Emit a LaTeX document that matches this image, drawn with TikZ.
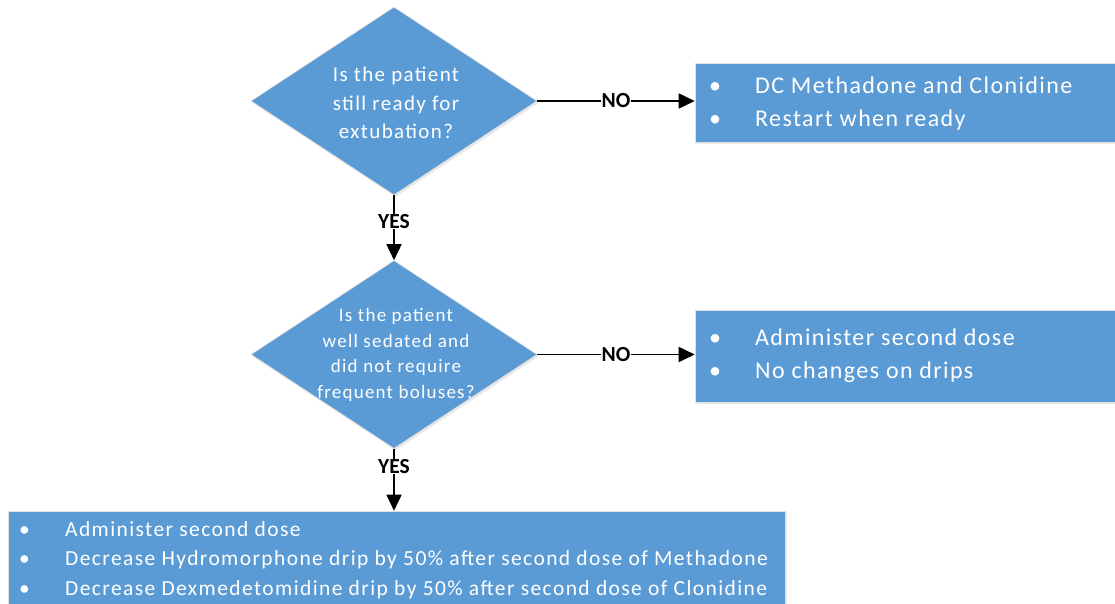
\documentclass[tikz,border=0pt]{standalone}
\usepackage{fontspec}
\setmainfont{Carlito}[LetterSpace=6.5]
\usetikzlibrary{shapes.geometric,arrows.meta,shadows}
\definecolor{fcblue}{RGB}{91,155,213}
\newcommand{\blt}{\makebox[46pt][l]{\textbullet}}
\tikzset{
  shade/.style={drop shadow={opacity=0.18,shadow xshift=1.5pt,shadow yshift=-2pt}},
  decision/.style={diamond,shape aspect=1.52,fill=fcblue,draw=black!12,line width=0.6pt,inner sep=0pt,minimum width=286pt,minimum height=188pt,shade},
  dtext/.style={text=white,align=center},
  actbox/.style={rectangle,fill=fcblue,draw=black!12,line width=0.6pt,inner sep=0pt,shade},
  btext/.style={text=white,align=left,anchor=west,inner sep=0pt},
  conn/.style={line width=1.7pt,-{Triangle[length=16pt,width=15pt]}},
  lbl/.style={fill=white,inner sep=0.5pt,font=\fontsize{21.5}{21.5}\selectfont\bfseries\addfontfeatures{LetterSpace=0}}
}
\begin{document}
\begin{tikzpicture}[x=1pt,y=-1pt]
\useasboundingbox (0,0) rectangle (1115,604);
% decisions
\node[decision] (d1) at (394,101) {};
\node[dtext,font=\fontsize{21}{28.5}\selectfont] (d1t) at (396,103) {Is the patient\\still ready for\\extubation?};
\node[decision] (d2) at (394,354.5) {};
\node[dtext,font=\fontsize{19}{25.5}\selectfont] (d2t) at (396,355) {Is the patient\\well sedated and\\did not require\\frequent boluses?};
% action boxes
\node[actbox,minimum width=420pt,minimum height=79pt] (b1) at (905,102.5) {};
\node[btext,font=\fontsize{24}{33}\selectfont\addfontfeatures{LetterSpace=5.8}] (b1t) at (709,104) {\blt DC Methadone and Clonidine\\\blt Restart when ready};
\node[actbox,minimum width=420pt,minimum height=92pt] (b2) at (905,356) {};
\node[btext,font=\fontsize{24}{33}\selectfont\addfontfeatures{LetterSpace=5.8}] (b2t) at (709,356) {\blt Administer second dose\\\blt No changes on drips};
\node[actbox,minimum width=777pt,minimum height=100pt] (b3) at (396.5,561) {};
\node[btext,font=\fontsize{21.5}{29.5}\selectfont\addfontfeatures{LetterSpace=6.5}] (b3t) at (19,560) {\blt Administer second dose\\\blt Decrease Hydromorphone drip by 50\% after second dose of Methadone\\\blt Decrease Dexmedetomidine drip by 50\% after second dose of Clonidine};
% connectors
\draw[conn] (d1.east) -- node[lbl] {NO} (d1.east -| b1.west);
\draw[conn] (d2.east) -- node[lbl] {NO} (d2.east -| b2.west);
\draw[conn] (d1.south) -- node[lbl,pos=0.4] {YES} (d2.north);
\draw[conn] (d2.south) -- node[lbl,pos=0.28] {YES} (d2.south |- b3.north);
\end{tikzpicture}
\end{document}
